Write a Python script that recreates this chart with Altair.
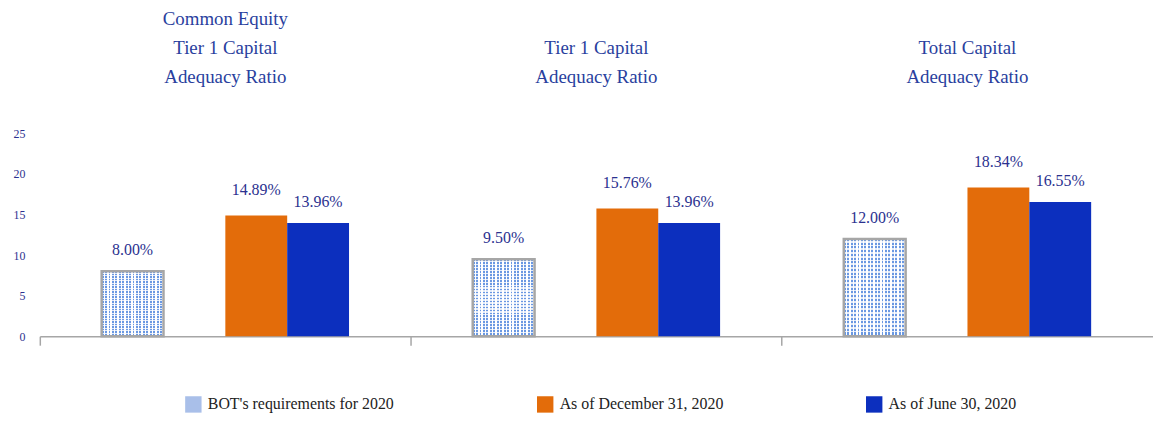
import altair as alt
import pandas as pd

groups = ["CET1", "Tier1", "Total"]
group_title_lines = [
    ["Common Equity", "Tier 1 Capital", "Adequacy Ratio"],
    ["Tier 1 Capital", "Adequacy Ratio"],
    ["Total Capital", "Adequacy Ratio"],
]
series = ["BOT's requirements for 2020", "As of December 31, 2020", "As of June 30, 2020"]
bot_req = [8.00, 9.50, 12.00]
dec_2020 = [14.89, 15.76, 18.34]
jun_2020 = [13.96, 13.96, 16.55]
y_ticks = [0, 5, 10, 15, 20, 25]

colors = ["#a9bfe9", "#e36c0a", "#0c2fbe"]
slot_domain = ["_s1", series[0], "_s2", series[1], series[2], "_s3"]

rows = []
for i, g in enumerate(groups):
    for s, vals in zip(series, [bot_req, dec_2020, jun_2020]):
        rows.append({"group": g, "series": s, "value": vals[i], "label": f"{vals[i]:.2f}%"})
df = pd.DataFrame(rows)

title_rows = []
for g, lines in zip(groups, group_title_lines):
    for k, line in enumerate(reversed(lines)):
        title_rows.append({"group": g, "line": line, "from_bottom": k})
titles_df = pd.DataFrame(title_rows)

FONT = "Liberation Serif"
TXT = "#2b318f"

x = alt.X("group:N", sort=groups, title=None,
          scale=alt.Scale(paddingInner=0, paddingOuter=0),
          axis=alt.Axis(labels=False, bandPosition=0, tickSize=9, tickColor="#a6a6a6",
                        tickWidth=1.5, domainColor="#a6a6a6", domainWidth=1.5, grid=False))
xo = alt.XOffset("series:N", scale=alt.Scale(domain=slot_domain, paddingInner=0, paddingOuter=0))
y = alt.Y("value:Q", title=None,
          scale=alt.Scale(domain=[0, 25], nice=False),
          axis=alt.Axis(values=y_ticks, grid=False, domain=False, ticks=False,
                        labelPadding=15, labelFont=FONT, labelFontSize=12, labelColor=TXT))

base = alt.Chart(df)

bars = base.mark_bar().encode(
    x=x, xOffset=xo, y=y,
    color=alt.Color("series:N", sort=series,
                    scale=alt.Scale(domain=series, range=colors),
                    legend=alt.Legend(title=None, orient="none", legendX=146, legendY=264,
                                      direction="horizontal", columns=3, columnPadding=143,
                                      symbolType="square", symbolSize=272, symbolStrokeWidth=0,
                                      labelFont=FONT, labelFontSize=16, labelColor="#222222",
                                      labelOffset=6, labelLimit=400)),
)

n_v = 18
v_stops = []
for k in range(n_v):
    a = k / n_v
    b = (k + 0.55) / n_v
    c = (k + 1) / n_v
    v_stops += [alt.GradientStop(offset=a, color="#6a98e2"), alt.GradientStop(offset=b, color="#6a98e2"),
                alt.GradientStop(offset=b, color="#ffffff"), alt.GradientStop(offset=c, color="#ffffff")]
n_h = 26
h_stops = []
for k in range(n_h):
    a = k / n_h
    b = (k + 0.55) / n_h
    c = (k + 1) / n_h
    h_stops += [alt.GradientStop(offset=a, color="rgba(255,255,255,0)"), alt.GradientStop(offset=b, color="rgba(255,255,255,0)"),
                alt.GradientStop(offset=b, color="rgba(255,255,255,0.8)"), alt.GradientStop(offset=c, color="rgba(255,255,255,0.8)")]

bot_base = base.transform_filter(alt.datum.series == series[0])
pattern_v = bot_base.mark_bar(
    color=alt.Gradient(gradient="linear", stops=v_stops, x1=0, x2=1, y1=0, y2=0)
).encode(x=x, xOffset=xo, y=y)
pattern_h = bot_base.mark_bar(
    color=alt.Gradient(gradient="linear", stops=h_stops, x1=0, x2=0, y1=0, y2=1),
    stroke="#a6a6a6", strokeWidth=2.5
).encode(x=x, xOffset=xo, y=y)

lab_other = base.transform_filter(alt.datum.series != series[1]).mark_text(
    baseline="bottom", dy=-13, font=FONT, fontSize=16, color=TXT
).encode(x=x, xOffset=xo, y=y, text="label:N")
lab_dec = base.transform_filter(alt.datum.series == series[1]).mark_text(
    baseline="bottom", dy=-18, font=FONT, fontSize=16, color=TXT
).encode(x=x, xOffset=xo, y=y, text="label:N")

title_layers = []
for k in range(3):
    title_layers.append(
        alt.Chart(titles_df).transform_filter(alt.datum.from_bottom == k).mark_text(
            baseline="middle", font=FONT, fontSize=19, color="#2a3f9e"
        ).encode(x=x, y=alt.value(-57 - 29 * k), text="line:N")
    )

chart = alt.layer(bars, pattern_v, pattern_h, lab_other, lab_dec, *title_layers).properties(
    width=1120, height=204,
    padding={"left": 32, "top": 125, "right": 0, "bottom": 77},
    autosize="none",
).configure_view(stroke=None).configure_legend(padding=0)

chart.save("out.html", embed_options={"renderer": "svg", "actions": False})
